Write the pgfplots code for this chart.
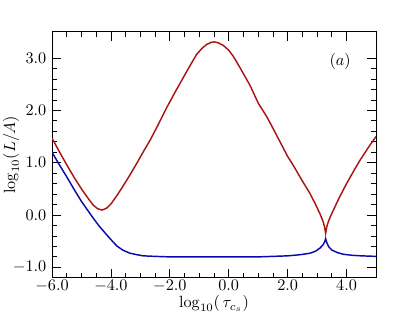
\documentclass[border=0pt]{standalone}
\usepackage{pgfplots}
\pgfplotsset{compat=1.18}
\definecolor{cred}{RGB}{170,20,20}
\definecolor{cblue}{RGB}{10,10,170}
\begin{document}
\begin{tikzpicture}
\begin{axis}[
  scale only axis,
  width=200pt, height=151.8pt,
  xmin=-6, xmax=5, ymin=-1.2, ymax=3.5,
  xtick={-6,-4,-2,0,2,4},
  ytick={-1,0,1,2,3},
  minor x tick num=3,
  minor y tick num=4,
  tick align=inside,
  major tick length=5.5pt,
  minor tick length=3pt,
  axis line style={line width=0.6pt},
  every tick/.style={line width=0.5pt, black},
  xticklabel style={yshift=2pt, /pgf/number format/.cd, fixed, fixed zerofill, precision=1},
  yticklabel style={/pgf/number format/.cd, fixed, fixed zerofill, precision=1},
  xlabel={$\log_{10}(\,\tau_{c_s})$},
  ylabel={$\log_{10}(L/A)$},
  xlabel style={at={(axis description cs:0.5,-0.105)}, anchor=center, inner sep=0.5pt},
  ylabel style={at={(axis description cs:-0.1265,0.5)}, anchor=center},
  clip=true,
]
\addplot[cred, line width=0.9pt] coordinates {
(-6.0,1.47) (-5.75,1.21) (-5.5,0.96) (-5.25,0.72) (-5.0,0.50) (-4.75,0.30)
(-4.6,0.19) (-4.45,0.12) (-4.3,0.095) (-4.15,0.13) (-4.0,0.21) (-3.8,0.37)
(-3.58,0.56) (-3.35,0.77) (-3.12,0.99) (-2.9,1.21) (-2.67,1.43) (-2.4,1.72)
(-2.1,2.06) (-1.8,2.37) (-1.54,2.63) (-1.3,2.87) (-1.09,3.07) (-0.9,3.19)
(-0.75,3.26) (-0.6,3.30) (-0.49,3.31) (-0.35,3.29) (-0.18,3.24) (0.0,3.15)
(0.16,3.03) (0.4,2.80) (0.72,2.48) (1.0,2.14) (1.29,1.88) (1.5,1.66)
(1.74,1.40) (2.0,1.12) (2.19,0.95) (2.5,0.65) (2.76,0.41) (2.95,0.20)
(3.1,0.02) (3.2,-0.12) (3.25,-0.22) (3.29,-0.35) (3.33,-0.22) (3.38,-0.13)
(3.45,-0.03) (3.55,0.09) (3.75,0.33) (4.0,0.60) (4.25,0.85) (4.46,1.05)
(4.75,1.30) (5.0,1.50)
};
\addplot[cblue, line width=0.9pt] coordinates {
(-6.0,1.20) (-5.75,0.96) (-5.5,0.73) (-5.25,0.49) (-5.0,0.26) (-4.8,0.10)
(-4.6,-0.06) (-4.4,-0.21) (-4.14,-0.38) (-3.95,-0.50) (-3.8,-0.59) (-3.6,-0.67)
(-3.35,-0.73) (-3.1,-0.76) (-2.9,-0.78) (-2.5,-0.79) (-2.0,-0.80) (-1.0,-0.80)
(0.0,-0.80) (1.0,-0.80) (1.5,-0.79) (2.0,-0.78) (2.4,-0.76) (2.76,-0.73)
(2.95,-0.69) (3.1,-0.63) (3.2,-0.57) (3.25,-0.52) (3.29,-0.45) (3.33,-0.53)
(3.4,-0.61) (3.5,-0.67) (3.7,-0.72) (3.89,-0.75) (4.2,-0.77) (4.5,-0.78)
(5.0,-0.79)
};
\node at (axis cs:3.78,2.93) {$(a)$};
\end{axis}
\pgfresetboundingbox
\path ([shift={(-32.1pt,-21.6pt)}]current axis.south west) rectangle ([shift={(25.3pt,19.7pt)}]current axis.north east);
\end{tikzpicture}
\end{document}
